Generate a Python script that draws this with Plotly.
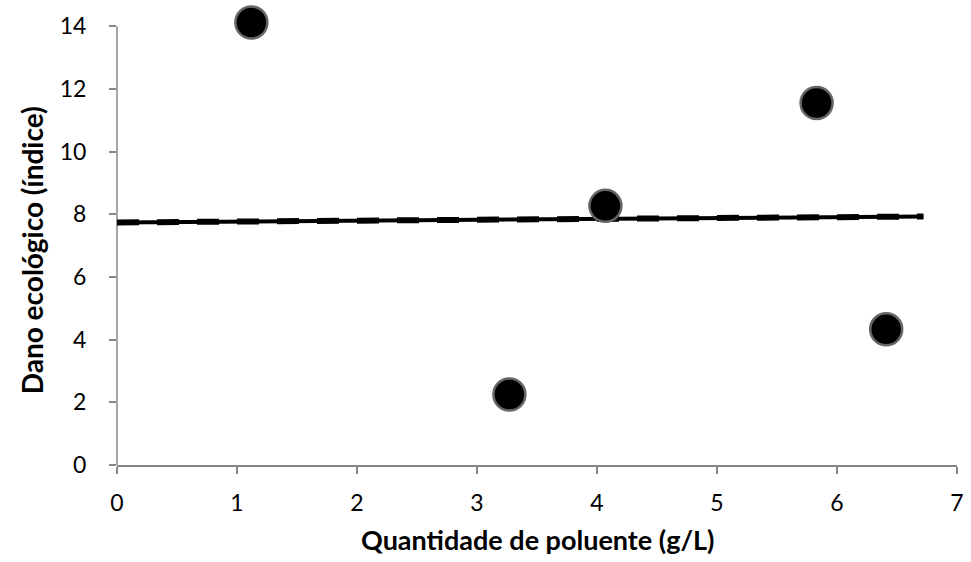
import plotly.graph_objects as go

# Data
poluente = [1.12, 3.27, 4.07, 5.83, 6.41]
dano = [14.12, 2.25, 8.27, 11.55, 4.33]
trend_x = [0.0, 6.72]
trend_y = [7.74, 7.93]
x_ticks = [0, 1, 2, 3, 4, 5, 6, 7]
y_ticks = [0, 2, 4, 6, 8, 10, 12, 14]
x_title = "Quantidade de poluente (g/L)"
y_title = "Dano ecológico (índice)"

font = "Lato, 'Open Sans', sans-serif"
axis_grey = "#868686"

fig = go.Figure()
fig.add_trace(go.Scatter(x=trend_x, y=trend_y, mode="lines",
                         line=dict(color="black", width=4), hoverinfo="skip",
                         cliponaxis=False, showlegend=False))
fig.add_trace(go.Scatter(x=trend_x, y=trend_y, mode="lines",
                         line=dict(color="black", width=6, dash="22px,18px"), hoverinfo="skip",
                         cliponaxis=False, showlegend=False))
fig.add_trace(go.Scatter(x=poluente, y=dano, mode="markers",
                         marker=dict(size=32, color="black",
                                     line=dict(color="#666666", width=2.5)),
                         cliponaxis=False, showlegend=False))

axis_common = dict(showgrid=False, zeroline=False,
                   ticks="outside", tickcolor=axis_grey, tickwidth=1.5, ticklen=7,
                   tickfont=dict(family=font, size=23, color="black"))

fig.update_xaxes(range=[0, 7], tickvals=x_ticks, showline=True,
                 linecolor=axis_grey, linewidth=1.5, ticklabelstandoff=10,
                 **axis_common)
fig.update_yaxes(range=[0, 14.2], tickvals=y_ticks, showline=False,
                 ticklabelstandoff=18, **axis_common)

# y axis line ends at the top tick (14)
fig.add_shape(type="line", xref="paper", yref="y", x0=0, x1=0, y0=0, y1=y_ticks[-1],
              line=dict(color=axis_grey, width=1.5), layer="below")

# axis titles
fig.add_annotation(text="<b>" + x_title + "</b>", xref="paper", yref="paper",
                   x=0.5, y=-0.167, xanchor="center", yanchor="middle", showarrow=False,
                   font=dict(family=font, size=27, color="black"))
fig.add_annotation(text="<b>" + y_title + "</b>", xref="paper", yref="paper",
                   x=-0.101, y=0.483, xanchor="center", yanchor="middle", showarrow=False,
                   textangle=-90, font=dict(family=font, size=28, color="black"))

fig.update_layout(width=971, height=562,
                  margin=dict(l=117, r=14, t=20, b=97, autoexpand=False),
                  plot_bgcolor="white", paper_bgcolor="white")

fig.write_html("out.html", config={"displayModeBar": False},
               post_script="document.body.style.margin='0';")
